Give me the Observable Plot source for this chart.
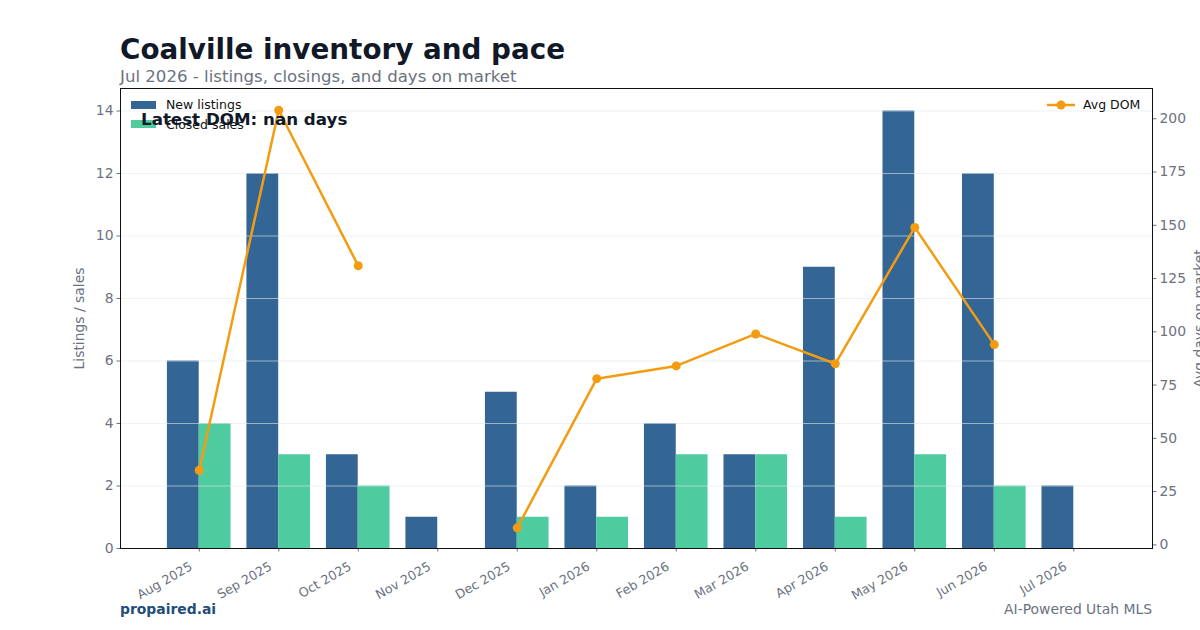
<!DOCTYPE html>
<html>
<head>
<meta charset="utf-8">
<script src="https://cdn.jsdelivr.net/npm/d3@7"></script>
<script src="https://cdn.jsdelivr.net/npm/@observablehq/plot@0.6"></script>
<style>
  html, body { margin: 0; padding: 0; background: #fff; }
  #wrap { position: relative; width: 1200px; height: 630px; overflow: hidden; font-family: "DejaVu Sans", sans-serif; }
  .abs { position: absolute; line-height: 1; white-space: nowrap; }
  #p1, #p2 { position: absolute; left: 0; top: 0; }
</style>
</head>
<body>
<div id="wrap">
  <div id="p1"></div>
  <div id="p2"></div>
  <div class="abs" id="title" style="left:120px; top:35.8px; font-size:27.8px; font-weight:bold; color:#111827;">Coalville inventory and pace</div>
  <div class="abs" id="subtitle" style="left:120px; top:69.4px; font-size:16.6px; color:#6b7280;">Jul 2026 - listings, closings, and days on market</div>

  <div class="abs" style="left:131px; top:101px; width:25px; height:8px; background:#336695;"></div>
  <div class="abs" style="left:166px; top:99.4px; font-size:12.5px; color:#111;">New listings</div>
  <div class="abs" style="left:131px; top:120px; width:25px; height:8px; background:#4ecb9f;"></div>
  <div class="abs" style="left:166px; top:118.8px; font-size:12.5px; color:#111;">Closed sales</div>
  <div class="abs" style="left:141px; top:111px; font-size:16.7px; font-weight:bold; color:#111827;">Latest DOM: nan days</div>

  <svg class="abs" style="left:1045px; top:97px;" width="32" height="16">
    <line x1="2" y1="8" x2="30" y2="8" stroke="#f39c12" stroke-width="2.5"></line>
    <circle cx="16" cy="8" r="4.5" fill="#f39c12"></circle>
  </svg>
  <div class="abs" style="left:1083px; top:99.4px; font-size:12.5px; color:#111;">Avg DOM</div>

  <div class="abs" style="left:120px; top:602.5px; font-size:13.9px; font-weight:bold; color:#1f4e79;">propaired.ai</div>
  <div class="abs" style="right:48px; top:602.5px; font-size:13.9px; color:#6b7280;">AI-Powered Utah MLS</div>
</div>
<script>
const months = ["Aug 2025","Sep 2025","Oct 2025","Nov 2025","Dec 2025","Jan 2026","Feb 2026","Mar 2026","Apr 2026","May 2026","Jun 2026","Jul 2026"];
const newListings = [6,12,3,1,5,2,4,3,9,14,12,2];
const closedSales = [4,3,2,0,1,1,3,3,1,3,2,0];
const avgDom = [35,204,131,null,8,78,84,99,85,149,94,null];
const leftTicks = [0,2,4,6,8,10,12,14];
const rightTicks = [0,25,50,75,100,125,150,175,200];

const rows = months.map((m, i) => ({i, month: m, newL: newListings[i], closed: closedSales[i], dom: avgDom[i]}));

const common = {
  width: 1200, height: 630,
  marginLeft: 120, marginRight: 48, marginTop: 88, marginBottom: 82,
  style: {fontFamily: "DejaVu Sans", fontSize: "13.9px", color: "#6b7280", background: "transparent", overflow: "visible"},
  x: {domain: [-0.99, 11.99]}
};

const p1 = Plot.plot({
  ...common,
  y: {domain: [0, 14.72]},
  marks: [
    Plot.rectY(rows, {x1: d => d.i - 0.4, x2: d => d.i, y: "newL", fill: "#336695"}),
    Plot.rectY(rows, {x1: d => d.i, x2: d => d.i + 0.4, y: "closed", fill: "#4ecb9f"}),
    Plot.ruleY(leftTicks.slice(1), {stroke: "#e5e7eb", strokeOpacity: 0.6}),
    Plot.axisY({ticks: leftTicks, tickSize: 3.5, tickPadding: 3.5, label: null, stroke: "#6b7280", fill: "#6b7280"}),
    Plot.axisX({ticks: d3.range(months.length), tickSize: 3.5, tickFormat: () => "", label: null, stroke: "#6b7280"}),
    Plot.axisX({ticks: d3.range(months.length), tickFormat: i => months[i], tickRotate: -30, tickSize: 0, tickPadding: 8, dx: -8, dy: 9, label: null, fontSize: 12.7, fill: "#6b7280"}),
    Plot.text(["Listings / sales"], {frameAnchor: "left", textAnchor: "middle", dx: -41, rotate: -90, fill: "#6b7280", fontSize: 13.9}),
    Plot.frame({stroke: "#111"})
  ]
});
document.getElementById("p1").appendChild(p1);

const p2 = Plot.plot({
  ...common,
  x: {domain: [-0.99, 11.99], axis: null},
  y: {domain: [-1.7, 214.2]},
  marks: [
    Plot.lineY(rows, {x: "i", y: "dom", stroke: "#f39c12", strokeWidth: 2.5}),
    Plot.dot(rows, {x: "i", y: "dom", fill: "#f39c12", r: 4.5}),
    Plot.axisY({anchor: "right", ticks: rightTicks, tickSize: 3.5, tickPadding: 3.5, label: null, stroke: "#6b7280", fill: "#6b7280"}),
    Plot.text(["Avg days on market"], {frameAnchor: "right", textAnchor: "middle", dx: 47, rotate: -90, fill: "#6b7280", fontSize: 13.9})
  ]
});
document.getElementById("p2").appendChild(p2);
</script>
</body>
</html>
